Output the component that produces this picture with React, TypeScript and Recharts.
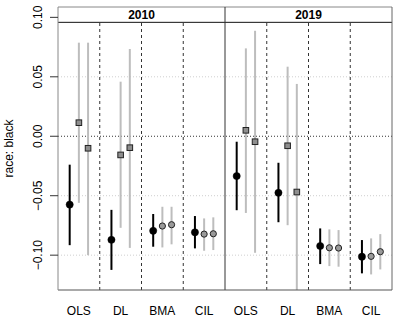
import React from 'react';
import {
  ComposedChart,
  Scatter,
  XAxis,
  YAxis,
  ErrorBar,
  ReferenceLine,
  ReferenceArea,
  Label,
} from 'recharts';

// Facets and methods
const years = ['2010', '2019'];
const methods = ['OLS', 'DL', 'BMA', 'CIL'];
// marker shape of the grey estimates for each method
const greyMarkers = ['square', 'square', 'circle', 'circle'];

// 8 slots: 2010 OLS, DL, BMA, CIL, 2019 OLS, DL, BMA, CIL
const blackEst = [-0.0575, -0.0871, -0.0795, -0.0808, -0.0335, -0.0475, -0.0923, -0.1013];
const blackLo = [-0.0916, -0.1124, -0.0929, -0.0943, -0.0622, -0.0723, -0.1075, -0.1153];
const blackHi = [-0.0239, -0.0619, -0.0654, -0.0671, -0.0046, -0.0223, -0.0775, -0.0873];

const grey1Est = [0.0114, -0.0157, -0.0755, -0.0823, 0.005, -0.008, -0.0938, -0.101];
const grey1Lo = [-0.056, -0.077, -0.0935, -0.0963, -0.0645, -0.0748, -0.1092, -0.1162];
const grey1Hi = [0.0787, 0.0459, -0.0593, -0.0691, 0.0739, 0.0585, -0.0783, -0.0859];

const grey2Est = [-0.0101, -0.0096, -0.0744, -0.082, -0.0046, -0.0469, -0.094, -0.0971];
const grey2Lo = [-0.1, -0.0939, -0.0909, -0.0957, -0.098, -0.1293, -0.1097, -0.112];
const grey2Hi = [0.0787, 0.0734, -0.0593, -0.0682, 0.0887, 0.044, -0.0789, -0.0823];

const yTicks = [-0.1, -0.05, 0, 0.05, 0.1];
const Y_MIN = -0.1293;
const Y_MAX = 0.1087;
const STRIP_BOTTOM = 0.0958;

const FONT = '"Liberation Sans", Arial, Helvetica, sans-serif';

const slots = years.flatMap((yr) => methods.map((m, j) => ({ yr, m, j })));

function build(est: number[], lo: number[], hi: number[], offset: number, kind: 'black' | 'grey') {
  return slots.map((s, i) => ({
    x: i + 0.5 + offset,
    y: est[i],
    err: [est[i] - lo[i], hi[i] - est[i]],
    marker: kind === 'black' ? 'black' : greyMarkers[s.j],
  }));
}

const blackData = build(blackEst, blackLo, blackHi, -0.22, 'black');
const grey1Data = build(grey1Est, grey1Lo, grey1Hi, 0, 'grey');
const grey2Data = build(grey2Est, grey2Lo, grey2Hi, 0.22, 'grey');

const xTicks = slots.map((_, i) => i + 0.5);

const MarkerShape = (props: any) => {
  const { cx, cy, payload } = props;
  if (cx == null || cy == null) return null;
  if (payload.marker === 'black') {
    return <circle cx={cx} cy={cy} r={3.6} fill="#000" stroke="#000" strokeWidth={0.5} />;
  }
  if (payload.marker === 'square') {
    const s = 5.6;
    return (
      <rect x={cx - s / 2} y={cy - s / 2} width={s} height={s} fill="#8e8e8e" stroke="#222" strokeWidth={1} />
    );
  }
  return <circle cx={cx} cy={cy} r={3.1} fill="#9a9a9a" stroke="#222" strokeWidth={1} />;
};

const YTick = (props: any) => {
  const { x, y, payload } = props;
  const v = payload.value as number;
  const txt = (v < 0 ? '\u2212' : '') + Math.abs(v).toFixed(2);
  const tx = x - 6;
  return (
    <text
      x={tx}
      y={y}
      transform={`rotate(-90, ${tx}, ${y})`}
      textAnchor="middle"
      fontSize={12}
      fontFamily={FONT}
      fill="#000"
    >
      {txt}
    </text>
  );
};

const XTick = (props: any) => {
  const { x, y, payload } = props;
  const idx = Math.round(payload.value - 0.5);
  const label = slots[idx] ? slots[idx].m : '';
  return (
    <text x={x} y={y + 25} textAnchor="middle" fontSize={12} fontFamily={FONT} fill="#000">
      {label}
    </text>
  );
};

const YLabel = (props: any) => {
  const vb = props.viewBox || { x: 0, y: 7, width: 58, height: 283 };
  const cy = vb.y + vb.height / 2;
  const x = 13;
  return (
    <text
      x={x}
      y={cy}
      transform={`rotate(-90, ${x}, ${cy})`}
      textAnchor="middle"
      fontSize={12}
      fontFamily={FONT}
      fill="#000"
    >
      race: black
    </text>
  );
};

const separators = [1, 2, 3, 5, 6, 7];

export default function App() {
  return (
    <div style={{ position: 'absolute', left: 0, top: 0, background: '#fff' }}>
      <ComposedChart
        width={399}
        height={326}
        margin={{ top: 7, right: 7, bottom: 0, left: 0 }}
        style={{ fontFamily: FONT }}
      >
        <XAxis
          type="number"
          dataKey="x"
          domain={[0, 8]}
          ticks={xTicks}
          tick={<XTick />}
          tickLine={false}
          tickSize={0}
          tickMargin={0}
          height={36}
          axisLine={{ stroke: '#555', strokeWidth: 1 }}
          allowDataOverflow
        />
        <YAxis
          type="number"
          dataKey="y"
          domain={[Y_MIN, Y_MAX]}
          ticks={yTicks}
          tick={<YTick />}
          tickSize={8}
          tickMargin={2}
          tickLine={{ stroke: '#333', strokeWidth: 1 }}
          axisLine={{ stroke: '#888', strokeWidth: 1 }}
          width={58}
          allowDataOverflow
        >
          <Label content={<YLabel />} />
        </YAxis>

        {/* light dotted gridlines */}
        <ReferenceLine y={0.05} stroke="#cfcfcf" strokeDasharray="1 2" />
        <ReferenceLine y={-0.05} stroke="#cfcfcf" strokeDasharray="1 2" />
        <ReferenceLine y={-0.1} stroke="#cfcfcf" strokeDasharray="1 2" />
        <ReferenceLine y={0} stroke="#333" strokeDasharray="1 2" />

        {/* dashed group separators */}
        {separators.map((sx) => (
          <ReferenceLine
            key={sx}
            segment={[
              { x: sx, y: Y_MIN },
              { x: sx, y: STRIP_BOTTOM },
            ]}
            stroke="#333"
            strokeDasharray="3 3"
          />
        ))}

        {/* facet strips */}
        {years.map((yr, k) => (
          <ReferenceArea
            key={yr}
            x1={k * 4}
            x2={k * 4 + 4}
            y1={STRIP_BOTTOM}
            y2={Y_MAX}
            fill="#fff"
            fillOpacity={1}
            stroke="none"
            label={{ value: yr, position: 'center', fontWeight: 'bold', fontSize: 12, fill: '#000', fontFamily: FONT }}
          />
        ))}
        <ReferenceLine y={STRIP_BOTTOM} stroke="#111" />
        <ReferenceLine y={Y_MAX} stroke="#888" />
        <ReferenceLine x={8} stroke="#666" />
        <ReferenceLine x={4} stroke="#333" />

        <Scatter data={blackData} dataKey="y" shape={<MarkerShape />} isAnimationActive={false}>
          <ErrorBar dataKey="err" direction="y" width={0} stroke="#000" strokeWidth={2} />
        </Scatter>
        <Scatter data={grey1Data} dataKey="y" shape={<MarkerShape />} isAnimationActive={false}>
          <ErrorBar dataKey="err" direction="y" width={0} stroke="#bdbdbd" strokeWidth={2} />
        </Scatter>
        <Scatter data={grey2Data} dataKey="y" shape={<MarkerShape />} isAnimationActive={false}>
          <ErrorBar dataKey="err" direction="y" width={0} stroke="#bdbdbd" strokeWidth={2} />
        </Scatter>
      </ComposedChart>
    </div>
  );
}
